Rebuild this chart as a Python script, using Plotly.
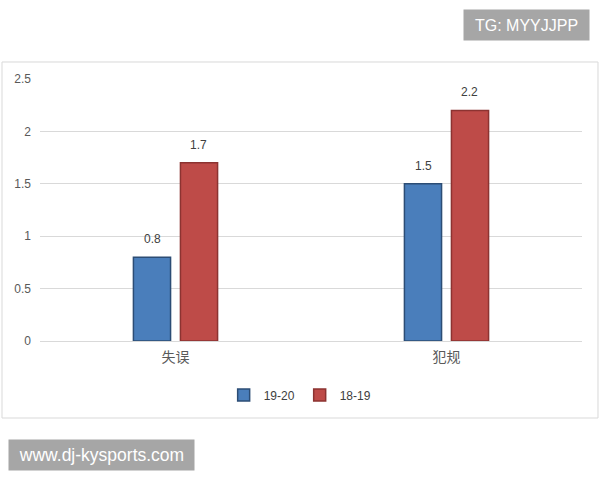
import plotly.graph_objects as go

categories = ["失误", "犯规"]
season_1920 = [0.8, 1.5]
season_1819 = [1.7, 2.2]
series_names = ["19-20", "18-19"]
y_ticks = [0, 0.5, 1, 1.5, 2, 2.5]
y_tick_labels = ["0", "0.5", "1", "1.5", "2", "2.5"]

num_font = "Liberation Sans Narrow, Liberation Sans, Noto Sans CJK SC"
cjk_font = "Noto Sans CJK SC"

series = [
    (series_names[0], season_1920, "#4a7ebb", "#2c4d75", -23),
    (series_names[1], season_1819, "#be4b48", "#8c3331", 23),
]

fig = go.Figure()
label_annotations = []
for name, vals, fill, edge, shift in series:
    fig.add_trace(go.Bar(
        name=name, x=categories, y=vals,
        marker=dict(color=fill, line=dict(color=edge, width=1.5)),
        hoverinfo="skip",
    ))
    for cat, v in zip(categories, vals):
        label_annotations.append(dict(
            x=cat, y=v, xref="x", yref="y", text=str(v), showarrow=False,
            xshift=shift, yshift=18, xanchor="center", yanchor="middle",
            font=dict(size=12, color="#404040", family=num_font)))

fig.update_layout(
    width=600, height=480,
    paper_bgcolor="white", plot_bgcolor="white",
    margin=dict(l=40, r=18, t=79, b=139),
    barmode="group", bargap=0.653, bargroupgap=0.21,
    font=dict(family=cjk_font, color="#595959"),
    showlegend=True,
    legend=dict(orientation="h", x=0.48, xanchor="center", y=-0.206, yanchor="middle",
                font=dict(size=12, color="#404040", family=num_font),
                itemwidth=30, traceorder="normal"),
    xaxis=dict(showgrid=False, showline=False, ticks="", ticklabelstandoff=6,
               tickfont=dict(size=14, color="#595959", family=cjk_font)),
    yaxis=dict(range=[0, 2.5], tickvals=y_ticks, ticktext=y_tick_labels,
               showgrid=True, gridcolor="#d9d9d9", gridwidth=1,
               zeroline=True, zerolinecolor="#d9d9d9", zerolinewidth=1,
               showline=False, ticks="", ticklabelstandoff=8,
               tickfont=dict(size=12, color="#595959", family=num_font)),
    shapes=[dict(type="rect", xref="paper", yref="paper",
                 x0=-0.0701, x1=1.0295, y0=-0.2939, y1=1.0649,
                 line=dict(color="#d9d9d9", width=1), fillcolor="rgba(0,0,0,0)",
                 layer="below")],
    annotations=label_annotations + [
        dict(text="TG: MYYJJPP", xref="paper", yref="paper", x=0.8985, y=1.206,
             xanchor="center", yanchor="middle", width=119, height=24,
             showarrow=False, bgcolor="#a6a6a6", borderpad=3,
             font=dict(size=16, color="white", family="Liberation Sans")),
        dict(text="www.dj-kysports.com", xref="paper", yref="paper", x=0.114, y=-0.435,
             xanchor="center", yanchor="middle", width=179, height=24,
             showarrow=False, bgcolor="#a6a6a6", borderpad=3,
             font=dict(size=17.5, color="white", family="Liberation Sans")),
    ],
)

fig.write_html("out.html", config={"displayModeBar": False},
               post_script="document.body.style.margin='0';document.body.style.overflow='hidden';")
